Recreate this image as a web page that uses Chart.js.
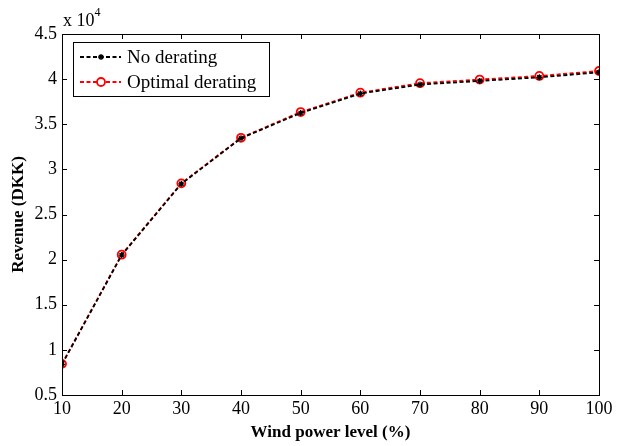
<!DOCTYPE html>
<html>
<head>
<meta charset="utf-8">
<script src="https://cdn.jsdelivr.net/npm/chart.js@4.4.0/dist/chart.umd.min.js"></script>
<style>
  html, body { margin: 0; padding: 0; background: #fff; }
  #wrap { width: 617px; height: 446px; }
</style>
</head>
<body>
<div id="wrap"><canvas id="revenueChart" width="617" height="446"></canvas></div>
<script>
// data
const windLevels = [10, 20, 30, 40, 50, 60, 70, 80, 90, 100];
const noDerating = [8400, 20500, 28400, 33450, 36250, 38400, 39400, 39800, 40200, 40750];
const optimalDerating = [8450, 20550, 28450, 33500, 36350, 38500, 39550, 39950, 40350, 40900];
const yTicks = [5000, 10000, 15000, 20000, 25000, 30000, 35000, 40000, 45000];

const serif = '"Liberation Serif", "Times New Roman", serif';

// box, inward ticks, exponent label and legend
const matlabFrame = {
    id: 'matlabFrame',
    afterDraw(chart) {
        const ctx = chart.ctx;
        const a = chart.chartArea;
        const xs = chart.scales.x, ys = chart.scales.y;
        ctx.save();
        ctx.strokeStyle = '#000';
        ctx.lineWidth = 1;
        ctx.strokeRect(Math.round(a.left) + 0.5, Math.round(a.top) + 0.5,
            Math.round(a.right - a.left), Math.round(a.bottom - a.top));
        ctx.beginPath();
        xs.ticks.forEach(t => {
            const px = Math.round(xs.getPixelForValue(t.value)) + 0.5;
            ctx.moveTo(px, a.bottom); ctx.lineTo(px, a.bottom - 5);
            ctx.moveTo(px, a.top); ctx.lineTo(px, a.top + 5);
        });
        ys.ticks.forEach(t => {
            const py = Math.round(ys.getPixelForValue(t.value)) + 0.5;
            ctx.moveTo(a.left, py); ctx.lineTo(a.left + 5, py);
            ctx.moveTo(a.right, py); ctx.lineTo(a.right - 5, py);
        });
        ctx.stroke();

        // x 10^4
        ctx.fillStyle = '#000';
        ctx.textBaseline = 'alphabetic';
        ctx.textAlign = 'left';
        ctx.font = '18px ' + serif;
        ctx.fillText('x 10', a.left + 1, a.top - 8);
        const w = ctx.measureText('x 10').width;
        ctx.font = '12px ' + serif;
        ctx.fillText('4', a.left + 1 + w, a.top - 18);

        // legend
        const lx = 73, ly = 42, lw = 196, lh = 54;
        ctx.fillStyle = '#fff';
        ctx.fillRect(lx, ly, lw, lh);
        ctx.strokeRect(lx + 0.5, ly + 0.5, lw, lh);
        chart.data.datasets.forEach((ds, i) => {
            const y = ly + 15 + i * 25;
            ctx.strokeStyle = ds.borderColor;
            ctx.lineWidth = ds.borderWidth;
            ctx.setLineDash(ds.borderDash);
            ctx.beginPath();
            ctx.moveTo(lx + 7, y); ctx.lineTo(lx + 48, y);
            ctx.stroke();
            ctx.setLineDash([]);
            ctx.fillStyle = '#fff';
            ctx.lineWidth = ds.pointBorderWidth;
            Chart.helpers.drawPoint(ctx, {
                pointStyle: ds.pointStyle, radius: ds.pointRadius,
                borderWidth: ds.pointBorderWidth
            }, lx + 28, y);
            ctx.fillStyle = '#000';
            ctx.font = '19px ' + serif;
            ctx.textBaseline = 'middle';
            ctx.fillText(ds.label, lx + 54, y + 1);
        });
        ctx.restore();
    }
};

new Chart(document.getElementById('revenueChart'), {
    type: 'line',
    data: {
        datasets: [
            {
                label: 'No derating',
                data: windLevels.map((x, i) => ({ x: x, y: noDerating[i] })),
                borderColor: '#000',
                backgroundColor: '#000',
                borderWidth: 1.8,
                borderDash: [4, 2.5],
                pointStyle: 'star',
                pointRadius: 3,
                pointBorderWidth: 1.3,
                pointBorderColor: '#000',
                fill: false
            },
            {
                label: 'Optimal derating',
                data: windLevels.map((x, i) => ({ x: x, y: optimalDerating[i] })),
                borderColor: '#ff0000',
                backgroundColor: 'rgba(0,0,0,0)',
                borderWidth: 1.8,
                borderDash: [4, 2.5],
                pointStyle: 'circle',
                pointRadius: 4,
                pointBorderWidth: 1.8,
                pointBorderColor: '#ff0000',
                fill: false
            }
        ]
    },
    options: {
        responsive: false,
        animation: false,
        layout: { padding: { top: 34, right: 18, left: 0, bottom: 0 } },
        plugins: {
            legend: { display: false },
            tooltip: { enabled: false }
        },
        scales: {
            x: {
                type: 'linear',
                min: 10,
                max: 100,
                ticks: {
                    stepSize: 10,
                    color: '#000',
                    font: { family: serif, size: 18 },
                    padding: 3,
                    maxRotation: 0
                },
                grid: { display: false, drawTicks: false, tickLength: 0 },
                border: { display: false },
                title: {
                    display: true,
                    text: 'Wind power level (%)',
                    color: '#000',
                    font: { family: serif, size: 17, weight: 'bold' },
                    padding: { top: 0, bottom: 3 }
                },
                afterFit(scale) { scale.height = 51; }
            },
            y: {
                min: 5000,
                max: 45000,
                afterBuildTicks(scale) { scale.ticks = yTicks.map(v => ({ value: v })); },
                ticks: {
                    color: '#000',
                    font: { family: serif, size: 18 },
                    padding: 5,
                    callback: v => String(v / 10000)
                },
                grid: { display: false, drawTicks: false, tickLength: 0 },
                border: { display: false },
                title: {
                    display: true,
                    text: 'Revenue (DKK)',
                    color: '#000',
                    font: { family: serif, size: 17, weight: 'bold' },
                    padding: { top: 8, bottom: 0 }
                },
                afterFit(scale) { scale.width = 62; }
            }
        }
    },
    plugins: [matlabFrame]
});
</script>
</body>
</html>
